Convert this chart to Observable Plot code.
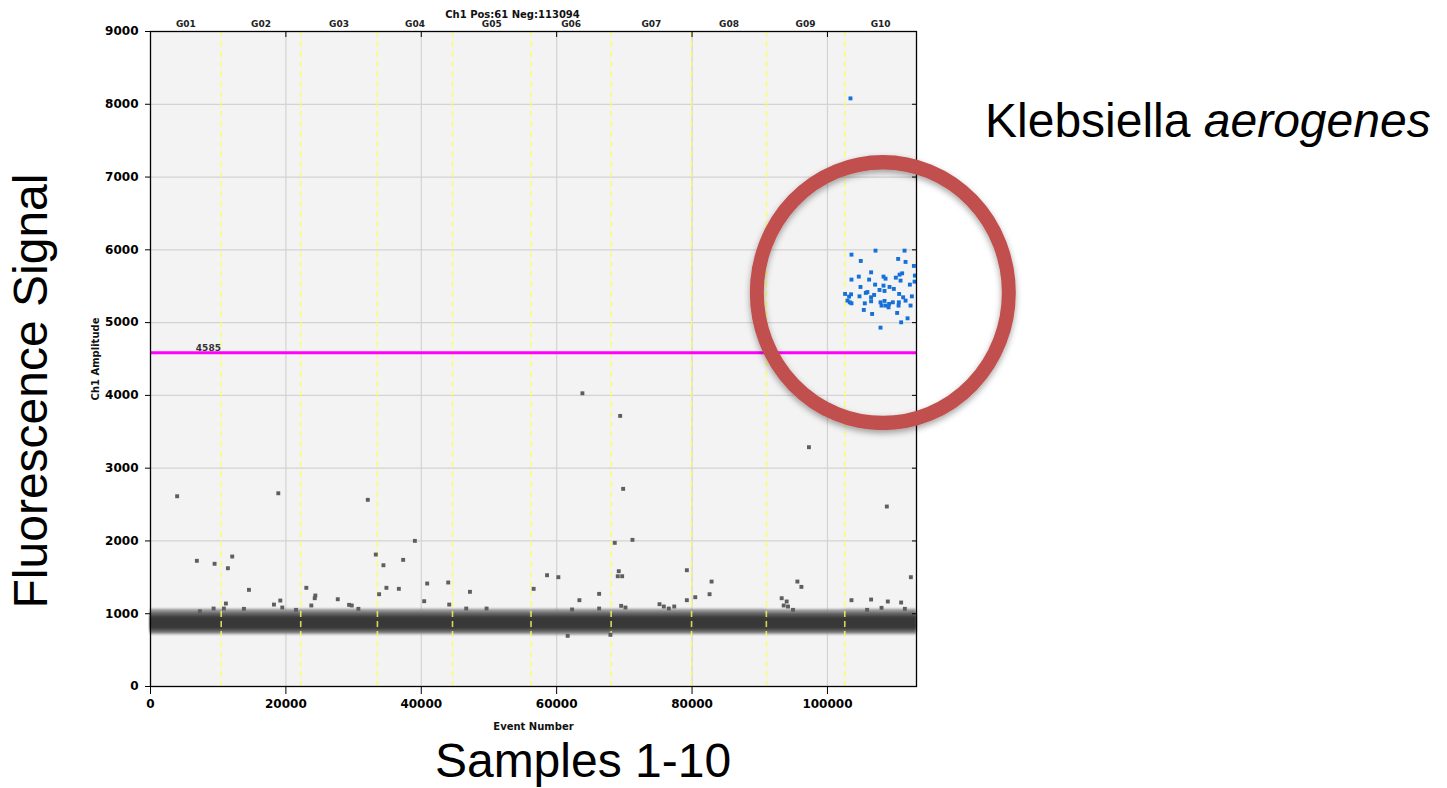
<!DOCTYPE html>
<html><head><meta charset="utf-8">
<script src="https://cdn.jsdelivr.net/npm/d3@7"></script>
<script src="https://cdn.jsdelivr.net/npm/@observablehq/plot@0.6"></script>
<style>
body{margin:0;background:#fff;}
#wrap{position:relative;width:1447px;height:788px;overflow:hidden;}
.big{position:absolute;font-family:"Liberation Sans",Arial,sans-serif;font-size:48px;line-height:48px;white-space:nowrap;color:#000;}
</style></head><body><div id="wrap"></div>
<script>
// ---------- data ----------
const totalEvents = 113155;
const titleText = "Ch1 Pos:61 Neg:113094";
const wellNames = ["G01","G02","G03","G04","G05","G06","G07","G08","G09","G10"];
const wellBounds = [0,10444,22189,33521,44615,56213,68047,79926,90976,102559,113155];
const threshold = 4585;
const yTicks = [0,1000,2000,3000,4000,5000,6000,7000,8000,9000];
const xTicks = [0,20000,40000,60000,80000,100000];

// negative droplet band per well (amplitude envelopes)
const fringeLo = [712,712,712,712,712,705,712,712,712,712];
const fringeHi = [1060,1060,1060,1060,1060,1060,1060,1060,1055,1060];
const bodyLo   = [745,745,745,745,745,742,745,745,745,745];
const bodyHi   = [1010,1010,1010,1010,1010,1010,1010,1010,1005,1010];
const coreLo   = [785,785,785,785,785,785,785,785,785,785];
const coreHi   = [960,960,960,960,960,960,960,960,955,960];

// negative outliers (event, amplitude)
const grayEvents = [3935,18876,32101,39053,6849,9467,12071,11435,14541,33284,34408,37322,34852,36686,33772,23018,24349,24260,27663,23757,29334,29728,30710,19172,18240,19467,11139,9320,10843,21494,13802,7293,40873,40429,43979,44127,47189,46642,49645,56598,58580,60251,63358,62278,66272,66272,68580,71198,69172,69024,69675,69527,70163,75192,75828,76568,77367,63802,69379,69822,97263,108772,79231,103550,112322,82885,82589,79231,80473,95562,96154,93240,93979,93535,94172,94911,106450,108920,107988,110887,111435,105858,61627,67941];
const grayAmps   = [2614,2655,2565,2001,1727,1686,1786,1625,1328,1813,1666,1740,1356,1342,1268,1356,1250,1213,1199,1113,1122,1113,1067,1181,1126,1085,1140,1071,1071,1053,1067,1034,1415,1172,1429,1126,1301,1071,1071,1342,1529,1502,1186,1058,1273,1071,1974,2015,1584,1515,1515,1108,1085,1131,1099,1071,1099,4029,3718,2716,3288,2473,1598,1186,1502,1442,1268,1186,1227,1442,1369,1213,1168,1113,1099,1053,1195,1168,1081,1154,1067,1053,696,710];

// positive droplets (event, amplitude)
const blueEvents = [103402,103550,107101,111388,104926,110444,111538,112766,106450,104630,108284,108580,111036,110651,106154,103550,110104,110798,112914,112869,107042,108284,109172,104882,107693,108432,109808,112174,105665,106893,106450,104734,103491,102604,103195,110592,111184,112470,111538,102958,103299,103550,105518,106450,107841,108432,107989,108580,109024,109660,110547,110503,112278,105370,106598,110296,111834,110887,107841,109113,105900];
const blueAmps   = [8081,5934,5989,5989,5847,5875,5834,5779,5691,5632,5632,5604,5677,5659,5591,5591,5618,5577,5646,5563,5522,5508,5490,5490,5449,5435,5463,5522,5408,5380,5348,5361,5389,5394,5357,5394,5348,5361,5302,5302,5279,5265,5265,5293,5279,5298,5234,5234,5210,5279,5279,5234,5234,5174,5119,5133,5059,5004,4931,5257,5420];

// annotation circle (center in data units)
const circleEvent = [108180];
const circleAmp = [5412];

// ---------- build tables ----------
const wells = wellNames.map((n,i)=>({name:n, x1:wellBounds[i], x2:wellBounds[i+1],
  fLo:fringeLo[i], fHi:fringeHi[i], bLo:bodyLo[i], bHi:bodyHi[i], cLo:coreLo[i], cHi:coreHi[i]}));
const gray = grayEvents.map((e,i)=>({e, a:grayAmps[i]}));
const blue = blueEvents.map((e,i)=>({e, a:blueAmps[i]}));
const circ = circleEvent.map((e,i)=>({e, a:circleAmp[i]}));
const fmt = d3.format("d");

const plot = Plot.plot({
  width:1447, height:788,
  marginLeft:150, marginRight:531, marginTop:31, marginBottom:102,
  style:{fontFamily:"DejaVu Sans", fontSize:"12px", background:"transparent", overflow:"visible"},
  x:{domain:[0,totalEvents]},
  y:{domain:[0,9000]},
  marks:[
    Plot.frame({fill:"#f3f3f3", stroke:null}),
    Plot.gridY(yTicks.slice(1,-1), {stroke:"#d3d3d3", strokeOpacity:1, strokeWidth:1.2}),
    Plot.gridX(xTicks.slice(1), {stroke:"#d3d3d3", strokeOpacity:1, strokeWidth:1.2}),
    Plot.rect(wells, {x1:"x1", x2:"x2", y1:"fLo", y2:"fHi", fill:"#888", fillOpacity:0.9, inset:0}),
    Plot.rect(wells, {x1:"x1", x2:"x2", y1:"bLo", y2:"bHi", fill:"#5a5a5a", inset:0}),
    Plot.rect(wells, {x1:"x1", x2:"x2", y1:"cLo", y2:"cHi", fill:"#383838", inset:0}),
    Plot.ruleX(wellBounds.slice(1,-1), {stroke:"#ffff55", strokeOpacity:0.8, strokeWidth:1.6, strokeDasharray:"6,4"}),
    Plot.dot(gray, {x:"e", y:"a", symbol:"square", r:2.2, fill:"#5e5e5e", stroke:null}),
    Plot.dot(blue, {x:"e", y:"a", symbol:"square", r:2.2, fill:"#1570d8", stroke:null}),
    Plot.ruleY([threshold], {stroke:"#ff00ff", strokeWidth:3}),
    Plot.text([threshold], {x:6700, y:d=>d, text:d=>String(d), textAnchor:"start", dy:-5, fontSize:9, fontWeight:"bold", fill:"#333"}),
    Plot.frame({stroke:"#000", strokeWidth:1.3}),
    Plot.axisY({ticks:yTicks, tickSize:5, tickPadding:7, tickFormat:fmt, fontWeight:"bold", fontSize:12, label:null, stroke:"#000"}),
    Plot.axisY({anchor:"right", ticks:yTicks.slice(1,-1), tickSize:5, dx:-5, tickFormat:()=>"", label:null}),
    Plot.axisX({ticks:xTicks, tickSize:8, tickPadding:5, tickFormat:fmt, fontWeight:"bold", fontSize:12, label:null}),
    Plot.axisX({anchor:"top", ticks:xTicks.slice(1), tickSize:5, dy:5, tickFormat:()=>"", label:null}),
    Plot.text(wells, {x:d=>(d.x1+d.x2)/2, y:()=>9000, text:"name", dy:-7, fontSize:9, fontWeight:"bold", fill:"#222"}),
    Plot.text([titleText], {frameAnchor:"top", text:d=>d, dx:-21, dy:-21, fontSize:10, fontWeight:"bold", fill:"#111"}),
    Plot.text(["Ch1 Amplitude"], {frameAnchor:"left", textAnchor:"middle", text:d=>d, rotate:-90, dx:-55, fontSize:10, fontWeight:"bold", fill:"#111"}),
    Plot.text(["Event Number"], {frameAnchor:"bottom", text:d=>d, dy:43, fontSize:10, fontWeight:"bold", fill:"#111"}),
    Plot.dot(circ, {x:"e", y:"a", r:126, stroke:"#c0504d", strokeWidth:14, fill:"none"})
  ]
});

// soft shadow and slight vertical stretch on the annotation ellipse; soften band edges
const svg = d3.select(plot);
const defs = svg.insert("defs", ":first-child");
const f = defs.append("filter").attr("id","shd").attr("x","-30%").attr("y","-30%").attr("width","160%").attr("height","160%");
f.append("feDropShadow").attr("dx",0).attr("dy",3).attr("stdDeviation",3).attr("flood-color","#000").attr("flood-opacity",0.35);
const fb = defs.append("filter").attr("id","soft").attr("x","-5%").attr("y","-50%").attr("width","110%").attr("height","200%");
fb.append("feGaussianBlur").attr("stdDeviation","0.9");
plot.querySelectorAll('g[aria-label="rect"]').forEach(g=>g.setAttribute("filter","url(#soft)"));
const dotGroups = plot.querySelectorAll('g[aria-label="dot"]');
const ring = dotGroups[dotGroups.length-1];
ring.setAttribute("filter","url(#shd)");
ring.querySelectorAll("circle").forEach(c=>{
  const cx = +c.getAttribute("cx"), cy = +c.getAttribute("cy");
  c.setAttribute("transform", `translate(${cx},${cy}) scale(1,1.035) translate(${-cx},${-cy})`);
});

const wrap = document.getElementById("wrap");
wrap.appendChild(plot);

function addBig(html, css){
  const d = document.createElement("div");
  d.className = "big"; d.innerHTML = html; Object.assign(d.style, css); wrap.appendChild(d);
}
addBig("Fluorescence Signal", {left:"31px", top:"391px", transform:"translate(-50%,-50%) rotate(-90deg)"});
addBig("Samples 1-10", {left:"583px", top:"737px", transform:"translateX(-50%)"});
addBig("Klebsiella <i>aerogenes</i>", {left:"985px", top:"97px"});
</script></body></html>
